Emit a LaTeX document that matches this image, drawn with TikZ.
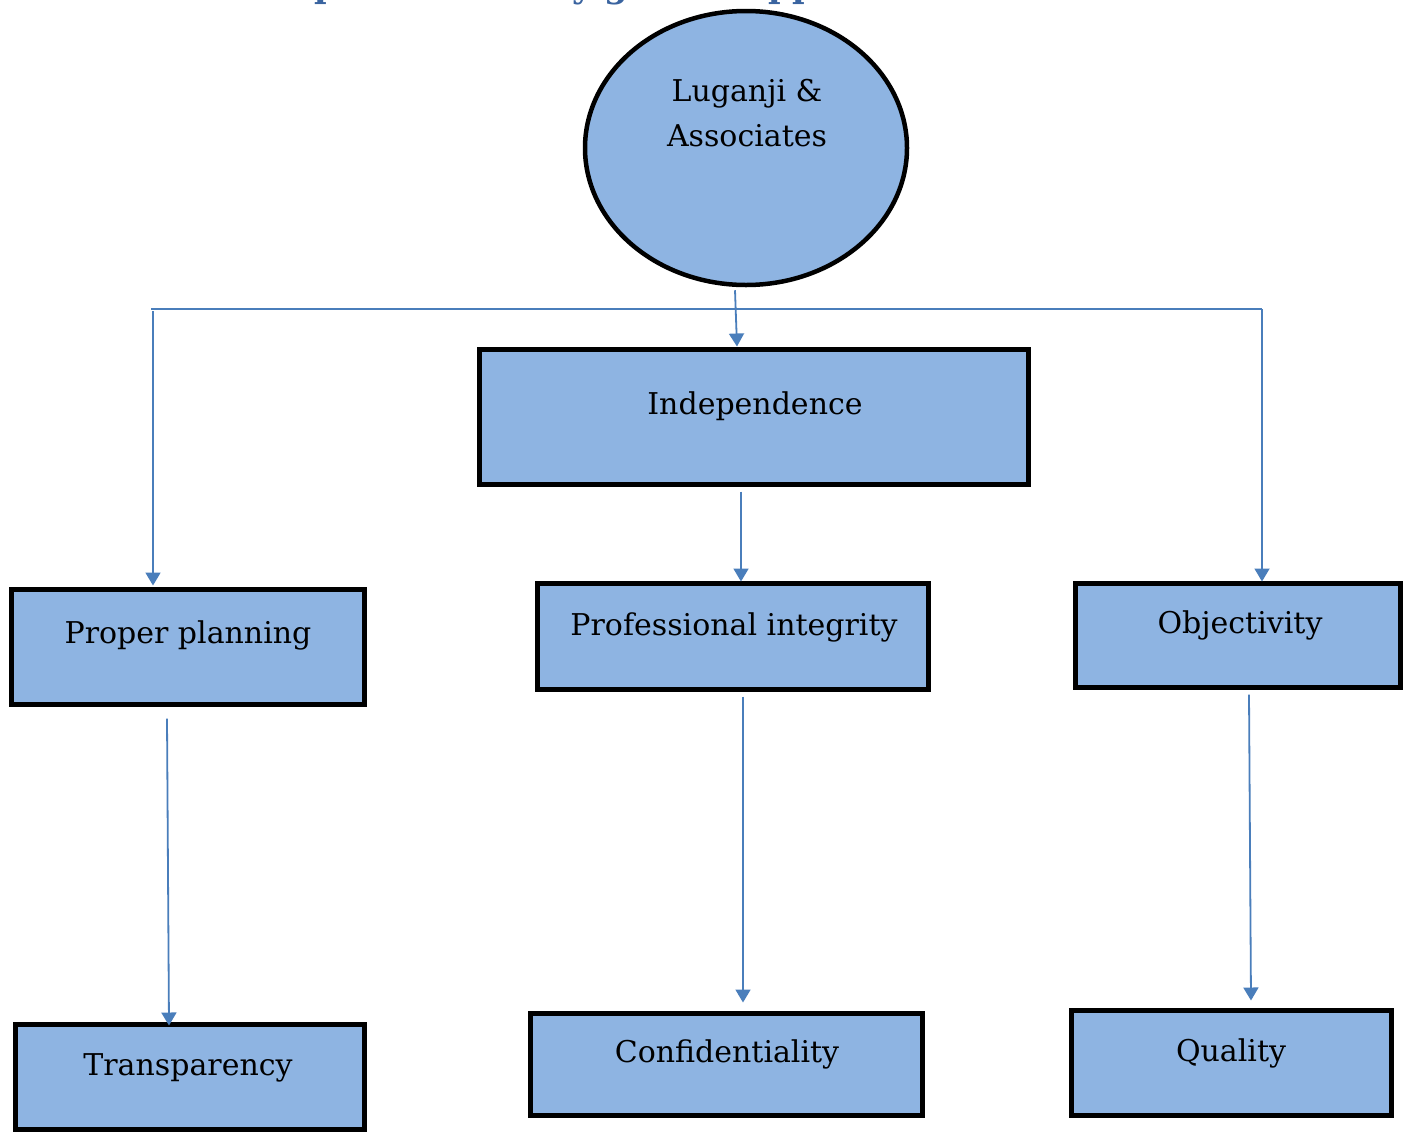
\documentclass[tikz,border=0pt]{standalone}
\usepackage{fontspec}
\setmainfont{DejaVu Serif}
\usetikzlibrary{arrows.meta,shapes.geometric,calc}
\definecolor{boxfill}{HTML}{8EB4E2}
\definecolor{connc}{HTML}{4A7EBB}
\definecolor{titleblue}{HTML}{3A64A0}
\begin{document}
\begin{tikzpicture}[x=1pt,y=-1pt,
  box/.style={draw=black, line width=5pt, fill=boxfill, rectangle, inner sep=0pt},
  lbl/.style={anchor=base, font=\fontsize{30}{36}\selectfont, inner sep=0pt},
  conn/.style={draw=connc, line width=1.8pt},
  arr/.style={conn, -{Triangle[length=13pt,width=15pt]}}]
\useasboundingbox (0,0) rectangle (1411,1133);
\fill[white] (0,0) rectangle (1411,1133);
% clipped title (only descenders visible)
\node[anchor=base west, font=\fontsize{34}{40}\selectfont\bfseries, text=titleblue, inner sep=0pt] (title) at (198,-3) {Concept of the study guided approach};
% top ellipse
\node[ellipse, draw=black, line width=4.5pt, fill=boxfill, minimum width=322, minimum height=274, inner sep=0pt] (lug) at (746,148) {};
\node[lbl] (lugta) at (747,101) {Luganji \&};
\node[lbl] (lugtb) at (747,146) {Associates};
% boxes
\node[box, minimum width=549, minimum height=135] (ind) at (753.5,416.5) {};
\node[lbl] (indt) at (755,414) {Independence};
\node[box, minimum width=353, minimum height=115] (pp) at (187.5,646.5) {};
\node[lbl] (ppt) at (188,643) {Proper planning};
\node[box, minimum width=391, minimum height=106] (pi) at (732.5,636) {};
\node[lbl] (pit) at (734,635) {Professional integrity};
\node[box, minimum width=325, minimum height=104] (ob) at (1237.5,635) {};
\node[lbl] (obt) at (1240,633) {Objectivity};
\node[box, minimum width=349, minimum height=105] (tr) at (189.5,1076.5) {};
\node[lbl] (trt) at (188,1075) {Transparency};
\node[box, minimum width=392, minimum height=102] (conf) at (726,1064) {};
\node[lbl] (conft) at (727,1062) {Confidentiality};
\node[box, minimum width=320, minimum height=105] (qu) at (1231,1062.5) {};
\node[lbl] (qut) at (1231,1061) {Quality};
% connectors
\coordinate (busL) at (151,309);
\coordinate (busR) at (1262,309);
\draw[conn] (busL) -- (busR);
\draw[arr] ($(lug.south)+(-11,3)$) -- ($(ind.north)+(-16.5,0)$);
\draw[arr] ($(busL)+(2,2)$) -- ($(pp.north)+(-34.5,-1)$);
\draw[arr] (busR) -- ($(ob.north)+(24.5,1)$);
\draw[arr] ($(ind.south)+(-12.5,5)$) -- ($(pi.north)+(8.5,1)$);
\draw[arr] ($(pp.south)+(-20.5,12)$) -- ($(tr.north)+(-20.5,4)$);
\draw[arr] ($(pi.south)+(10.5,5)$) -- ($(conf.north)+(17,-8)$);
\draw[arr] ($(ob.south)+(11.5,5)$) -- ($(qu.north)+(20,-7)$);
\end{tikzpicture}
\end{document}
